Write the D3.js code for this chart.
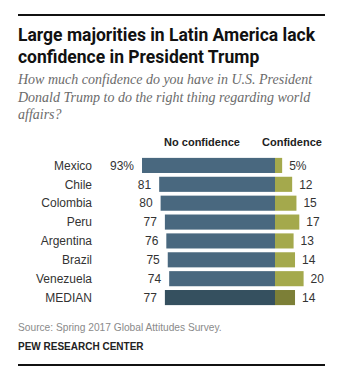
<!DOCTYPE html>
<html>
<head>
<meta charset="utf-8">
<script src="https://cdn.jsdelivr.net/npm/d3@7"></script>
<style>
  body { margin: 0; background: #fff; }
</style>
</head>
<body>
<script>
// chart data
var countries = ["Mexico", "Chile", "Colombia", "Peru", "Argentina", "Brazil", "Venezuela", "MEDIAN"];
var noConfidence = [93, 81, 80, 77, 76, 75, 74, 77];
var confidence = [5, 12, 15, 17, 13, 14, 20, 14];
var seriesNames = ["No confidence", "Confidence"];

var width = 341, height = 377;

var svg = d3.select("body")
    .append("svg")
    .attr("width", width)
    .attr("height", height)
    .style("display", "block");

var sans = "'Liberation Sans', Arial, sans-serif";

// title
var title = ["Large majorities in Latin America lack", "confidence in President Trump"];
svg.selectAll(".title")
    .data(title)
    .enter()
    .append("text")
    .attr("class", "title")
    .attr("x", 18)
    .attr("y", function(d, i) { return 41 + i * 22; })
    .attr("font-family", "Roboto, sans-serif")
    .attr("font-weight", "bold")
    .attr("font-size", "17.5px")
    .attr("fill", "#111")
    .text(function(d) { return d; });

// subtitle
var subtitle = ["How much confidence do you have in U.S. President",
    "Donald Trump to do the right thing regarding world", "affairs?"];
svg.selectAll(".subtitle")
    .data(subtitle)
    .enter()
    .append("text")
    .attr("class", "subtitle")
    .attr("x", 18)
    .attr("y", function(d, i) { return 84 + i * 17.5; })
    .attr("font-family", "'Liberation Serif', serif")
    .attr("font-style", "italic")
    .attr("font-size", "14px")
    .attr("fill", "#6b6b6b")
    .text(function(d) { return d; });

// scales
var zeroX = 275;
var x = d3.scaleLinear().domain([0, 100]).range([0, 143]);
var y = d3.scaleBand()
    .domain(countries)
    .range([156, 307])
    .paddingInner(0.2)
    .paddingOuter(0.1);

// column headers
svg.append("text")
    .attr("x", 202).attr("y", 146)
    .attr("text-anchor", "middle")
    .attr("font-family", sans).attr("font-weight", "bold").attr("font-size", "11px")
    .attr("fill", "#222")
    .text(seriesNames[0]);
svg.append("text")
    .attr("x", 262).attr("y", 146)
    .attr("font-family", sans).attr("font-weight", "bold").attr("font-size", "11px")
    .attr("fill", "#222")
    .text(seriesNames[1]);

function isMedian(d) { return d === "MEDIAN"; }

var rows = svg.selectAll(".row")
    .data(countries)
    .enter()
    .append("g")
    .attr("class", "row")
    .attr("transform", function(d) { return "translate(0," + y(d) + ")"; });

// country labels
rows.append("text")
    .attr("x", 92)
    .attr("y", y.bandwidth() / 2)
    .attr("dy", "0.35em")
    .attr("text-anchor", "end")
    .attr("font-family", sans)
    .attr("font-size", "12px")
    .attr("fill", "#333")
    .text(function(d) { return d; });

// no confidence bars
rows.append("rect")
    .attr("x", function(d, i) { return zeroX - x(noConfidence[i]); })
    .attr("width", function(d, i) { return x(noConfidence[i]); })
    .attr("height", y.bandwidth())
    .attr("fill", function(d) { return isMedian(d) ? "#35505f" : "#49687f"; });

// confidence bars
rows.append("rect")
    .attr("x", zeroX)
    .attr("width", function(d, i) { return x(confidence[i]); })
    .attr("height", y.bandwidth())
    .attr("fill", function(d) { return isMedian(d) ? "#7c7f37" : "#a4a94c"; });

// value labels
rows.append("text")
    .attr("x", function(d, i) { return zeroX - x(noConfidence[i]) - 8; })
    .attr("y", y.bandwidth() / 2)
    .attr("dy", "0.35em")
    .attr("text-anchor", "end")
    .attr("font-family", sans)
    .attr("font-size", "12px")
    .attr("fill", "#333")
    .text(function(d, i) { return noConfidence[i] + (i === 0 ? "%" : ""); });

rows.append("text")
    .attr("x", function(d, i) { return zeroX + x(confidence[i]) + 7; })
    .attr("y", y.bandwidth() / 2)
    .attr("dy", "0.35em")
    .attr("font-family", sans)
    .attr("font-size", "12px")
    .attr("fill", "#333")
    .text(function(d, i) { return confidence[i] + (i === 0 ? "%" : ""); });

// source and credit
svg.append("text")
    .attr("x", 18).attr("y", 331)
    .attr("font-family", sans).attr("font-size", "10.2px")
    .attr("fill", "#8a8a8a")
    .text("Source: Spring 2017 Global Attitudes Survey.");
svg.append("text")
    .attr("x", 18).attr("y", 350)
    .attr("font-family", sans).attr("font-weight", "bold").attr("font-size", "10px")
    .attr("fill", "#222")
    .text("PEW RESEARCH CENTER");

// top and bottom rules
svg.append("rect").attr("x", 18).attr("y", 14).attr("width", 307).attr("height", 2)
    .attr("fill", "#111");
svg.append("rect").attr("x", 18).attr("y", 364).attr("width", 307).attr("height", 2)
    .attr("fill", "#111");
</script>
</body>
</html>
